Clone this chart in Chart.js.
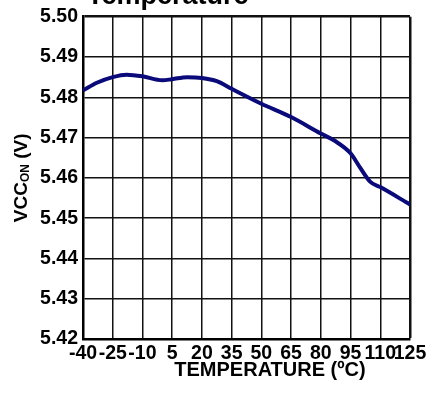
<!DOCTYPE html>
<html>
<head>
<meta charset="utf-8">
<script src="https://cdn.jsdelivr.net/npm/chart.js@4"></script>
<style>
  html, body { margin: 0; padding: 0; background: #fff; }
  #wrap { width: 435px; height: 402px; position: relative; }
</style>
</head>
<body>
<div id="wrap"><canvas id="vccChart" width="435" height="402"></canvas></div>
<script>
// data
const temps = [-40, -33, -25, -18, -10, 0, 5, 12.5, 20, 27.5, 35, 50, 65, 80, 87, 95, 100, 105, 110, 125];
const vccOn = [5.4817, 5.4836, 5.4850, 5.4856, 5.4852, 5.4842, 5.4845, 5.4850, 5.4848, 5.4840,
               5.4821, 5.4784, 5.4751, 5.4710, 5.4692, 5.4661, 5.4624, 5.4590, 5.4577, 5.4534];
const xTicks = [-40, -25, -10, 5, 20, 35, 50, 65, 80, 95, 110, 125];
const yTicks = [5.42, 5.43, 5.44, 5.45, 5.46, 5.47, 5.48, 5.49, 5.50];

const FONT = "'Liberation Sans', Arial, sans-serif";

// titles drawn by hand (subscript + odd placement)
const labelsPlugin = {
  id: 'labels',
  afterDraw(chart) {
    const ctx = chart.ctx;
    ctx.save();
    ctx.fillStyle = '#000';
    ctx.textBaseline = 'alphabetic';

    // cut-off title at the top
    ctx.font = 'bold 27px ' + FONT;
    ctx.textAlign = 'left';
    ctx.fillText('Temperature', 87, 4);

    // x axis title
    ctx.font = 'bold 20px ' + FONT;
    ctx.textAlign = 'center';
    ctx.fillText('TEMPERATURE (ºC)', 270, 376);

    // y axis title with subscript
    const a = chart.chartArea;
    ctx.translate(27, (a.top + a.bottom) / 2);
    ctx.rotate(-Math.PI / 2);
    const big = 'bold 19px ' + FONT, small = 'bold 12px ' + FONT;
    ctx.font = big;
    const w1 = ctx.measureText('VCC').width;
    const w3 = ctx.measureText(' (V)').width;
    ctx.font = small;
    const w2 = ctx.measureText('ON').width;
    let x = -(w1 + w2 + w3) / 2;
    ctx.textAlign = 'left';
    ctx.font = big;
    ctx.fillText('VCC', x, 0);
    x += w1;
    ctx.font = small;
    ctx.fillText('ON', x, 2);
    x += w2;
    ctx.font = big;
    ctx.fillText(' (V)', x, 0);
    ctx.restore();
  }
};

const ctx = document.getElementById('vccChart').getContext('2d');
new Chart(ctx, {
  type: 'line',
  data: {
    datasets: [{
      data: temps.map((t, i) => ({ x: t, y: vccOn[i] })),
      borderColor: '#0a0a7a',
      borderWidth: 4,
      pointRadius: 0,
      fill: false,
      cubicInterpolationMode: 'monotone'
    }]
  },
  options: {
    responsive: false,
    animation: false,
    layout: { padding: { top: 14, right: 25, left: 0, bottom: 0 } },
    plugins: {
      legend: { display: false },
      tooltip: { enabled: false }
    },
    scales: {
      x: {
        type: 'linear',
        min: -40,
        max: 125,
        afterBuildTicks: s => { s.ticks = xTicks.map(v => ({ value: v })); },
        afterFit: s => { s.height = 63; },
        ticks: {
          autoSkip: false,
          maxRotation: 0,
          minRotation: 0,
          padding: 3,
          color: '#000',
          font: { family: FONT, size: 19.5, weight: 'bold' },
          callback: v => String(v)
        },
        grid: {
          color: '#111',
          lineWidth: c => (c.index === xTicks.length - 1 ? 2.5 : 1.5),
          drawTicks: false
        },
        border: { color: '#000', width: 2.5 }
      },
      y: {
        min: 5.42,
        max: 5.50,
        afterBuildTicks: s => { s.ticks = yTicks.map(v => ({ value: v })); },
        afterFit: s => { s.width = 83; },
        ticks: {
          padding: 5,
          color: '#000',
          font: { family: FONT, size: 19.5, weight: 'bold' },
          callback: v => Number(v).toFixed(2)
        },
        grid: {
          color: '#111',
          lineWidth: c => (c.index === yTicks.length - 1 ? 2.5 : 1.5),
          drawTicks: false
        },
        border: { color: '#000', width: 2.5 }
      }
    }
  },
  plugins: [labelsPlugin]
});
</script>
</body>
</html>
